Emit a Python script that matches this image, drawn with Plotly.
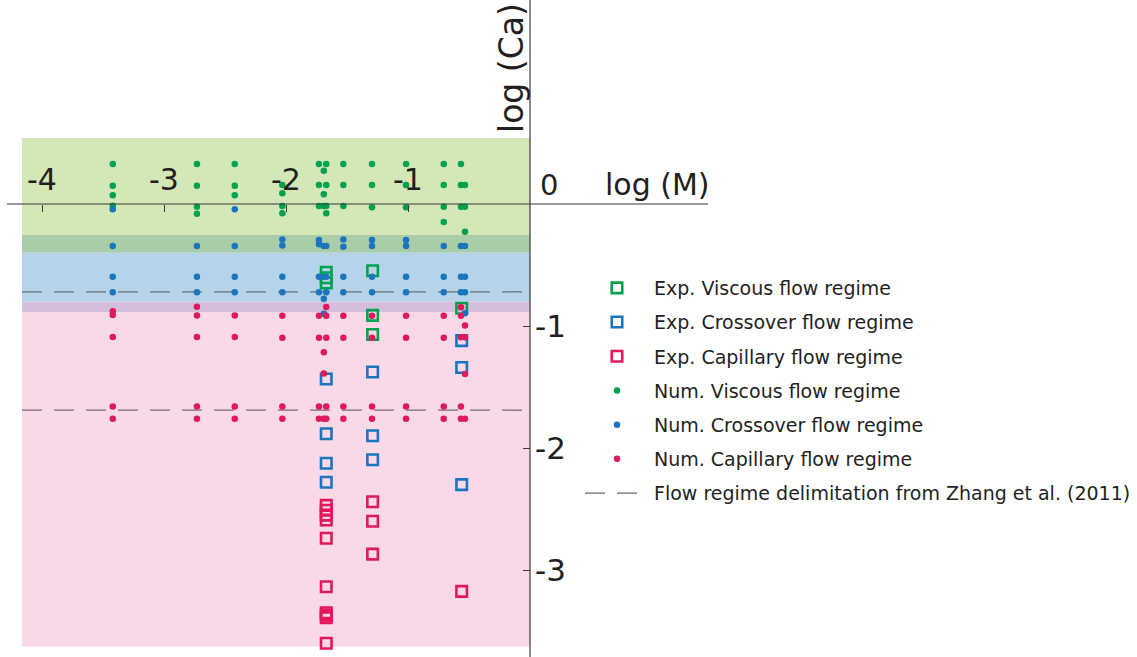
import plotly.graph_objects as go

# ---------------- data (log M, log Ca) ----------------
num_visc_x = [-3.42, -3.42, -3.42, -3.42, -2.73, -2.73, -2.73, -2.73, -2.42, -2.42, -2.42,
              -2.03, -2.03, -2.03, -2.03, -1.73, -1.73, -1.73, -1.69, -1.69, -1.69,
              -1.67, -1.67, -1.67, -1.67, -1.53, -1.53, -1.53, -1.295, -1.295, -1.295,
              -1.016, -1.016, -1.016, -0.707, -0.707, -0.707, -0.707, -0.566, -0.566, -0.566,
              -0.533, -0.533, -0.533]
num_visc_y = [0.328, 0.150, 0.071, -0.014, 0.328, 0.150, -0.022, -0.079, 0.328, 0.150, 0.071,
              0.156, 0.088, -0.016, -0.076, 0.328, 0.156, -0.016, 0.273, 0.080, -0.016,
              0.328, 0.156, -0.016, -0.076, 0.328, 0.156, -0.016, 0.328, 0.156, -0.027,
              0.328, 0.156, -0.027, 0.328, 0.156, -0.022, -0.148, 0.328, 0.156, -0.022,
              0.156, -0.022, -0.227]

num_cross_x = [-3.42, -3.42, -3.42, -3.42, -2.73, -2.73, -2.73, -2.42, -2.42, -2.42, -2.42,
               -2.03, -2.03, -2.03, -2.03, -1.73, -1.73, -1.73, -1.73, -1.69, -1.69, -1.69, -1.69,
               -1.67, -1.67, -1.67, -1.53, -1.53, -1.53, -1.53, -1.295, -1.295, -1.295, -1.295,
               -1.016, -1.016, -1.016, -1.016, -0.707, -0.707, -0.707, -0.566, -0.566, -0.566,
               -0.533, -0.533, -0.533, -0.533]
num_cross_y = [-0.043, -0.344, -0.596, -0.724, -0.344, -0.596, -0.724, -0.043, -0.344, -0.596, -0.724,
               -0.29, -0.34, -0.596, -0.724, -0.295, -0.33, -0.596, -0.724, -0.344, -0.596, -0.776, -0.90,
               -0.344, -0.596, -0.724, -0.29, -0.35, -0.596, -0.724, -0.295, -0.344, -0.596, -0.724,
               -0.295, -0.344, -0.596, -0.724, -0.344, -0.596, -0.724, -0.344, -0.596, -0.724,
               -0.344, -0.596, -0.724, -0.896]

num_cap_x = [-3.42, -3.42, -3.42, -3.42, -3.42, -2.73, -2.73, -2.73, -2.73, -2.73,
             -2.42, -2.42, -2.42, -2.42, -2.03, -2.03, -2.03, -2.03, -1.73, -1.73, -1.73, -1.73,
             -1.69, -1.69, -1.69, -1.67, -1.67, -1.67, -1.67, -1.67, -1.53, -1.53, -1.53, -1.53,
             -1.295, -1.295, -1.295, -1.295, -1.016, -1.016, -1.016, -1.016,
             -0.707, -0.707, -0.707, -0.707, -0.566, -0.566, -0.566, -0.566, -0.566,
             -0.533, -0.533, -0.533, -0.533]
num_cap_y = [-0.88, -0.91, -1.09, -1.66, -1.76, -0.842, -0.913, -1.09, -1.66, -1.76,
             -0.913, -1.09, -1.66, -1.76, -0.915, -1.096, -1.66, -1.76, -0.915, -1.096, -1.66, -1.76,
             -1.216, -1.39, -1.76, -0.844, -0.915, -1.096, -1.66, -1.76, -0.915, -1.096, -1.66, -1.76,
             -0.915, -1.096, -1.66, -1.76, -0.915, -1.096, -1.66, -1.76,
             -0.915, -1.096, -1.66, -1.76, -0.847, -0.915, -1.093, -1.66, -1.76,
             -0.995, -1.093, -1.393, -1.76]

exp_visc_x = [-1.67, -1.67, -1.67, -1.29, -1.29, -1.29, -0.56]
exp_visc_y = [-0.56, -0.605, -0.648, -0.547, -0.913, -1.07, -0.855]

exp_cross_x = [-1.67, -1.67, -1.67, -1.67, -1.29, -1.29, -1.29, -0.56, -0.56, -0.56]
exp_cross_y = [-1.434, -1.883, -2.125, -2.281, -1.377, -1.90, -2.096, -1.12, -1.34, -2.30]

exp_cap_x = [-1.67, -1.67, -1.67, -1.67, -1.67, -1.67, -1.67, -1.67, -1.67, -1.67,
             -1.29, -1.29, -1.29, -0.56]
exp_cap_y = [-2.47, -2.51, -2.55, -2.59, -2.74, -3.137, -3.35, -3.37, -3.39, -3.60,
             -2.44, -2.60, -2.87, -3.175]

zhang_ca = [-0.72, -1.69]          # flow regime delimitation levels (log Ca)
zhang_m_range = [-4.164, -0.04]    # extent of the delimitation lines (log M)

x_ticks = [-4, -3, -2, -1]
y_ticks = [-1, -2, -3]

# ---------------- styling ----------------
GREEN = "#00a24f"
BLUE = "#1b75bc"
PINK = "#e0195a"
FONT = "DejaVu Sans"
TXT = "#231f20"

W, H = 1137, 657
X0_PX, Y0_PX, SCALE = 530, 204, 122.0
x_range = [(0 - X0_PX) / SCALE, (W - X0_PX) / SCALE]
y_range = [(Y0_PX - H) / SCALE, Y0_PX / SCALE]

fig = go.Figure()

# delimitation lines (drawn first so points sit on top)
zx, zy = [], []
for c in zhang_ca:
    zx += [zhang_m_range[0], zhang_m_range[1], None]
    zy += [c, c, None]
fig.add_trace(go.Scatter(x=zx, y=zy, mode="lines", name="Flow regime delimitation from Zhang et al. (2011)",
                         line=dict(color="#6d6e71", width=1.3, dash="20px,12px"),
                         legendrank=7, legendgroup="g7"))

sq = dict(symbol="square-open", size=10.5, line=dict(width=2.6))
fig.add_trace(go.Scatter(x=exp_visc_x, y=exp_visc_y, mode="markers", name="Exp. Viscous flow regime",
                         marker=dict(color=GREEN, **sq), legendrank=1, legendgroup="g1"))
fig.add_trace(go.Scatter(x=exp_cross_x, y=exp_cross_y, mode="markers", name="Exp. Crossover flow regime",
                         marker=dict(color=BLUE, **sq), legendrank=2, legendgroup="g2"))
fig.add_trace(go.Scatter(x=exp_cap_x, y=exp_cap_y, mode="markers", name="Exp. Capillary flow regime",
                         marker=dict(color=PINK, **sq), legendrank=3, legendgroup="g3"))

dot = dict(symbol="circle", size=6.5)
fig.add_trace(go.Scatter(x=num_visc_x, y=num_visc_y, mode="markers", name="Num. Viscous flow regime",
                         marker=dict(color=GREEN, **dot), legendrank=4, legendgroup="g4"))
fig.add_trace(go.Scatter(x=num_cross_x, y=num_cross_y, mode="markers", name="Num. Crossover flow regime",
                         marker=dict(color=BLUE, **dot), legendrank=5, legendgroup="g5"))
fig.add_trace(go.Scatter(x=num_cap_x, y=num_cap_y, mode="markers", name="Num. Capillary flow regime",
                         marker=dict(color=PINK, **dot), legendrank=6, legendgroup="g6"))

# regime background bands (log Ca limits)
bands = [
    (0.54, -0.254, "#d3e7b7"),
    (-0.254, -0.40, "#a9cda9"),
    (-0.40, -0.80, "#b5d4e9"),
    (-0.80, -0.885, "#d4bedb"),
    (-0.885, -3.63, "#f9d9e8"),
]
for y0, y1, col in bands:
    fig.add_shape(type="rect", xref="x", yref="y", x0=-4.164, x1=0, y0=y1, y1=y0,
                  fillcolor=col, line=dict(width=0), layer="below")

# axis lines
fig.add_shape(type="line", xref="x", yref="y", x0=(7 - X0_PX) / SCALE, x1=(708 - X0_PX) / SCALE, y0=0, y1=0,
              line=dict(color="#3a3a3a", width=1.2))
fig.add_shape(type="line", xref="x", yref="paper", x0=0, x1=0, y0=0, y1=1,
              line=dict(color="#3a3a3a", width=1.2))

fig.add_annotation(x=0, y=0, xref="x", yref="y", text="0", showarrow=False,
                   xshift=19, yshift=19, font=dict(family=FONT, size=29, color=TXT))
fig.add_annotation(x=(657 - X0_PX) / SCALE, y=(Y0_PX - 184) / SCALE, xref="x", yref="y",
                   text="log (M)", showarrow=False, font=dict(family=FONT, size=30, color=TXT))
fig.add_annotation(x=(511 - X0_PX) / SCALE, y=(Y0_PX - 68) / SCALE, xref="x", yref="y",
                   text="log (Ca)", textangle=-90, showarrow=False, font=dict(family=FONT, size=33, color=TXT))

fig.update_layout(
    width=W, height=H,
    margin=dict(l=0, r=0, t=0, b=0, autoexpand=False),
    paper_bgcolor="white", plot_bgcolor="white",
    xaxis=dict(range=x_range, showgrid=False, zeroline=False, showline=False,
               anchor="free", position=(H - Y0_PX) / H, side="top",
               tickmode="array", tickvals=x_ticks, ticktext=[str(v) for v in x_ticks],
               ticks="inside", ticklen=7, tickwidth=1.2, tickcolor="#3a3a3a",
               ticklabelstandoff=8, automargin=False,
               tickfont=dict(family=FONT, size=30, color=TXT)),
    yaxis=dict(range=y_range, showgrid=False, zeroline=False, showline=False,
               anchor="free", position=X0_PX / W, side="right",
               tickmode="array", tickvals=y_ticks, ticktext=[str(v) for v in y_ticks],
               ticks="inside", ticklen=7, tickwidth=1.2, tickcolor="#3a3a3a",
               ticklabelstandoff=4, automargin=False,
               tickfont=dict(family=FONT, size=31, color=TXT)),
    showlegend=True,
    legend=dict(x=580 / W, y=1 - 269 / H, xanchor="left", yanchor="top",
                bgcolor="rgba(0,0,0,0)", font=dict(family=FONT, size=19, color=TXT),
                tracegroupgap=6.5, itemwidth=64),
)

fig.write_html("out.html", config={"displayModeBar": False},
               post_script="document.body.style.margin='0';")
